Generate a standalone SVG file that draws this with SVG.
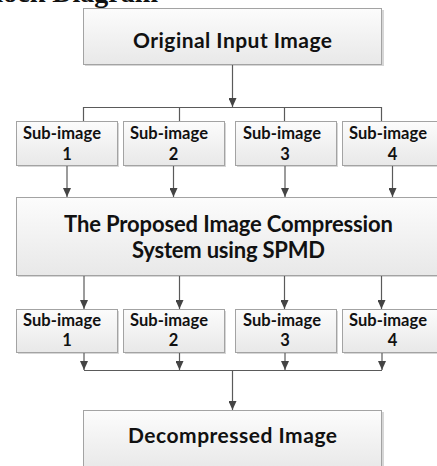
<svg xmlns="http://www.w3.org/2000/svg" width="437" height="466" viewBox="0 0 437 466">
<style>
.box{fill:url(#g);stroke:#a3a3a3;stroke-width:1}
.sh{fill:#d6d6d6}
.t{font-family:Lato,"Open Sans","Liberation Sans",sans-serif;font-weight:bold;fill:#111}
.c{stroke:#5a5a5a;stroke-width:1.2;fill:none}
.title{font-family:"Liberation Serif",serif;font-weight:bold;fill:#111}
</style>
<defs>
<linearGradient id="g" x1="0" y1="0" x2="0" y2="1">
<stop offset="0" stop-color="#fcfcfc"/>
<stop offset="1" stop-color="#e8e8e8"/>
</linearGradient>
<marker id="a" markerUnits="userSpaceOnUse" markerWidth="10" markerHeight="8" refX="9" refY="4" orient="auto">
<path d="M0,0 L9,4 L0,8 Z" fill="#444"/>
</marker>
</defs>
<text class="title" x="158" y="2" font-size="28" text-anchor="end">Block Diagram</text>
<g id="top">
<rect class="sh" x="85" y="10" width="299" height="56"/>
<rect class="box" x="83.5" y="8.5" width="298" height="56"/>
<text class="t" x="232.5" y="48" font-size="21" text-anchor="middle" textLength="199">Original Input Image</text>
</g>
<g id="sub1">
<rect class="sh" x="18" y="123" width="101" height="44"/>
<rect class="box" x="16.5" y="121.5" width="101" height="44"/>
<text class="t" x="23" y="139" font-size="16.5" textLength="78">Sub-image</text>
<text class="t" x="67" y="160" font-size="16.5" text-anchor="middle">1</text>
</g>
<g id="sub2">
<rect class="sh" x="125" y="123" width="101" height="44"/>
<rect class="box" x="123.5" y="121.5" width="101" height="44"/>
<text class="t" x="130" y="139" font-size="16.5" textLength="78">Sub-image</text>
<text class="t" x="173.5" y="160" font-size="16.5" text-anchor="middle">2</text>
</g>
<g id="sub3">
<rect class="sh" x="237" y="123" width="101" height="44"/>
<rect class="box" x="235.5" y="121.5" width="101" height="44"/>
<text class="t" x="243" y="139" font-size="16.5" textLength="78">Sub-image</text>
<text class="t" x="285" y="160" font-size="16.5" text-anchor="middle">3</text>
</g>
<g id="sub4">
<rect class="sh" x="344" y="123" width="101" height="44"/>
<rect class="box" x="342.5" y="121.5" width="101" height="44"/>
<text class="t" x="349" y="139" font-size="16.5" textLength="78">Sub-image</text>
<text class="t" x="392.5" y="160" font-size="16.5" text-anchor="middle">4</text>
</g>
<g id="spmd">
<rect class="sh" x="18" y="199" width="426" height="78"/>
<rect class="box" x="16.5" y="197.5" width="426" height="78"/>
<text class="t" x="228.5" y="232" font-size="22" text-anchor="middle" textLength="329">The Proposed Image Compression</text>
<text class="t" x="228.5" y="258" font-size="22" text-anchor="middle" textLength="193">System using SPMD</text>
</g>
<g id="out1">
<rect class="sh" x="18" y="311" width="101" height="43"/>
<rect class="box" x="16.5" y="309.5" width="101" height="43"/>
<text class="t" x="23" y="326" font-size="16.5" textLength="78">Sub-image</text>
<text class="t" x="67" y="346" font-size="16.5" text-anchor="middle">1</text>
</g>
<g id="out2">
<rect class="sh" x="125" y="311" width="101" height="43"/>
<rect class="box" x="123.5" y="309.5" width="101" height="43"/>
<text class="t" x="130" y="326" font-size="16.5" textLength="78">Sub-image</text>
<text class="t" x="173.5" y="346" font-size="16.5" text-anchor="middle">2</text>
</g>
<g id="out3">
<rect class="sh" x="237" y="311" width="101" height="43"/>
<rect class="box" x="235.5" y="309.5" width="101" height="43"/>
<text class="t" x="243" y="326" font-size="16.5" textLength="78">Sub-image</text>
<text class="t" x="285" y="346" font-size="16.5" text-anchor="middle">3</text>
</g>
<g id="out4">
<rect class="sh" x="344" y="311" width="101" height="43"/>
<rect class="box" x="342.5" y="309.5" width="101" height="43"/>
<text class="t" x="349" y="326" font-size="16.5" textLength="78">Sub-image</text>
<text class="t" x="392.5" y="346" font-size="16.5" text-anchor="middle">4</text>
</g>
<g id="decomp">
<rect class="sh" x="85" y="412" width="299" height="60"/>
<rect class="box" x="83.5" y="410.5" width="298" height="60"/>
<text class="t" x="232.5" y="443" font-size="21" text-anchor="middle" textLength="209">Decompressed Image</text>
</g>
<g id="connectors">
<path class="c" d="M232.5,65 V107" marker-end="url(#a)"/>
<path class="c" d="M83.5,121 V107.5 H381.5 V121 M179.5,107.5 V121 M284.5,107.5 V121"/>
<path class="c" d="M67,166 V197" marker-end="url(#a)"/>
<path class="c" d="M173.5,166 V197" marker-end="url(#a)"/>
<path class="c" d="M285,166 V197" marker-end="url(#a)"/>
<path class="c" d="M392.5,166 V197" marker-end="url(#a)"/>
<path class="c" d="M84,276 V309" marker-end="url(#a)"/>
<path class="c" d="M179.5,276 V309" marker-end="url(#a)"/>
<path class="c" d="M284.5,276 V309" marker-end="url(#a)"/>
<path class="c" d="M381.5,276 V309" marker-end="url(#a)"/>
<path class="c" d="M84,353 V370" marker-end="url(#a)"/>
<path class="c" d="M179.5,353 V370" marker-end="url(#a)"/>
<path class="c" d="M285,353 V370" marker-end="url(#a)"/>
<path class="c" d="M382,353 V370" marker-end="url(#a)"/>
<path class="c" d="M84,370.5 H382"/>
<path class="c" d="M232.5,370.5 V410" marker-end="url(#a)"/>
</g>
</svg>
